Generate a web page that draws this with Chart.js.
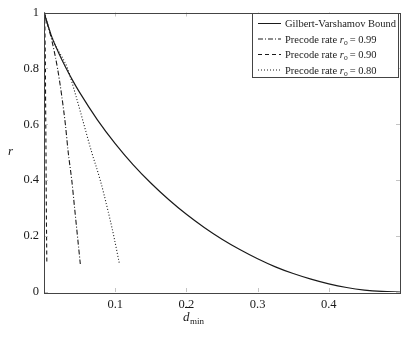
<!DOCTYPE html>
<html>
<head>
<meta charset="utf-8">
<script src="https://cdn.jsdelivr.net/npm/chart.js@4.4.1/dist/chart.umd.min.js"></script>
<style>
  html, body { margin: 0; padding: 0; background: #fff; }
  #wrap { width: 419px; height: 338px; position: relative; }
</style>
</head>
<body>
<div id="wrap"><canvas id="rateChart"></canvas></div>
<script>
// values
const gvD = [0, 0.01, 0.02, 0.03, 0.04, 0.05, 0.075, 0.1, 0.125, 0.15, 0.175, 0.2, 0.225, 0.25, 0.275, 0.3, 0.325, 0.35, 0.375, 0.4, 0.425, 0.45, 0.475, 0.5];
const gvR = [1, 0.919, 0.859, 0.806, 0.758, 0.714, 0.616, 0.531, 0.456, 0.39, 0.331, 0.278, 0.231, 0.189, 0.152, 0.119, 0.09, 0.066, 0.046, 0.029, 0.016, 0.007, 0.002, 0];

const rateLevels = [1, 0.9, 0.8, 0.7, 0.6, 0.5, 0.4, 0.3, 0.2, 0.1];
const d099 = [0, 0.011, 0.019, 0.025, 0.030, 0.034, 0.039, 0.043, 0.047, 0.051];
const d090 = [0.001, 0.0015, 0.002, 0.0022, 0.0025, 0.0028, 0.003, 0.0033, 0.0036, 0.004];
const d080 = [0, 0.013, 0.033, 0.045, 0.056, 0.067, 0.079, 0.089, 0.098, 0.106];

const xTicks = [0.1, 0.2, 0.3, 0.4];
const yTicks = [0, 0.2, 0.4, 0.6, 0.8, 1];

const seriesNames = ['Gilbert-Varshamov Bound', 'Precode rate ', 'Precode rate ', 'Precode rate '];
const precodeRates = ['', '0.99', '0.90', '0.80'];

const FONT = '"Liberation Serif", "DejaVu Serif", serif';
const INK = '#1a1a1a';

function pts(xs, ys) {
  return xs.map((x, i) => ({ x: x, y: ys[i] }));
}

const dashes = [[], [5, 2, 1, 2], [4, 3], [1, 2]];

const framePlugin = {
  id: 'frame',
  afterDraw(chart) {
    const c = chart.ctx;
    const a = chart.chartArea;
    const xs = chart.scales.x, ys = chart.scales.y;
    c.save();
    // inner tick marks
    c.strokeStyle = '#c4c4c4';
    c.lineWidth = 1;
    xTicks.forEach(v => {
      const px = Math.round(xs.getPixelForValue(v)) + 0.5;
      c.beginPath();
      c.moveTo(px, a.bottom); c.lineTo(px, a.bottom - 4);
      c.moveTo(px, a.top); c.lineTo(px, a.top + 4);
      c.stroke();
    });
    yTicks.forEach(v => {
      const py = Math.round(ys.getPixelForValue(v)) + 0.5;
      c.beginPath();
      c.moveTo(a.left, py); c.lineTo(a.left + 4, py);
      c.moveTo(a.right, py); c.lineTo(a.right - 4, py);
      c.stroke();
    });
    // frame
    c.strokeStyle = '#444';
    c.lineWidth = 1;
    c.strokeRect(Math.round(a.left) + 0.5, Math.round(a.top) + 0.5,
      Math.round(a.right - a.left), Math.round(a.bottom - a.top));

    // axis titles
    c.fillStyle = INK;
    c.textBaseline = 'alphabetic';
    c.font = 'italic 13px ' + FONT;
    c.textAlign = 'left';
    c.fillText('r', 8, 155);
    c.fillText('d', 183, 321);
    c.fillRect(185, 307, 7, 1);
    c.font = '9px ' + FONT;
    c.fillText('min', 190, 324);

    // legend
    const lx = 252, ly = 13, lw = 146, lh = 64;
    c.fillStyle = '#fff';
    c.fillRect(lx, ly, lw, lh);
    c.strokeStyle = '#444';
    c.strokeRect(lx + 0.5, ly + 0.5, lw, lh);
    const rows = [23, 38.5, 54, 69.5];
    rows.forEach((ry, i) => {
      c.strokeStyle = INK;
      c.lineWidth = 1;
      c.setLineDash(dashes[i]);
      c.beginPath();
      c.moveTo(258, ry + 0.5); c.lineTo(281, ry + 0.5);
      c.stroke();
      c.setLineDash([]);
      c.fillStyle = INK;
      c.font = '10.5px ' + FONT;
      let tx = 285;
      const by = ry + 4;
      c.fillText(seriesNames[i], tx, by);
      if (precodeRates[i]) {
        tx += c.measureText(seriesNames[i]).width;
        c.font = 'italic 10.5px ' + FONT;
        c.fillText('r', tx, by);
        tx += c.measureText('r').width;
        c.font = '7.5px ' + FONT;
        c.fillText('o', tx, by + 2);
        tx += c.measureText('o').width + 2;
        c.font = '10.5px ' + FONT;
        c.fillText('= ' + precodeRates[i], tx, by);
      }
    });
    c.restore();
  }
};

const ctx = document.getElementById('rateChart').getContext('2d');
new Chart(ctx, {
  type: 'line',
  data: {
    datasets: [
      { label: seriesNames[0], data: pts(gvD, gvR), borderDash: dashes[0], borderWidth: 1.2 },
      { label: 'r0 = 0.99', data: pts(d099, rateLevels), borderDash: dashes[1], borderWidth: 1.1 },
      { label: 'r0 = 0.90', data: pts(d090, rateLevels), borderDash: dashes[2], borderWidth: 1.1 },
      { label: 'r0 = 0.80', data: pts(d080, rateLevels), borderDash: dashes[3], borderWidth: 1.1 }
    ].map(ds => Object.assign(ds, {
      borderColor: INK,
      pointRadius: 0,
      fill: false,
      tension: 0.4,
      cubicInterpolationMode: 'monotone'
    }))
  },
  options: {
    responsive: true,
    maintainAspectRatio: false,
    animation: false,
    layout: { padding: { top: 11, right: 19, left: 0, bottom: 0 } },
    plugins: {
      legend: { display: false },
      tooltip: { enabled: false }
    },
    scales: {
      x: {
        type: 'linear',
        min: 0,
        max: 0.5,
        afterFit(scale) { scale.height = 46; },
        afterBuildTicks(scale) { scale.ticks = xTicks.map(v => ({ value: v })); },
        grid: { display: false, drawTicks: false },
        border: { display: false },
        ticks: {
          padding: 5,
          color: INK,
          font: { family: FONT, size: 12.5 },
          maxRotation: 0,
          callback: v => String(v)
        }
      },
      y: {
        type: 'linear',
        min: 0,
        max: 1,
        afterFit(scale) { scale.width = 44; },
        afterBuildTicks(scale) { scale.ticks = yTicks.map(v => ({ value: v })); },
        grid: { display: false, drawTicks: false },
        border: { display: false },
        ticks: {
          padding: 5,
          color: INK,
          font: { family: FONT, size: 12.5 },
          callback: v => String(v)
        }
      }
    }
  },
  plugins: [framePlugin]
});
</script>
</body>
</html>
